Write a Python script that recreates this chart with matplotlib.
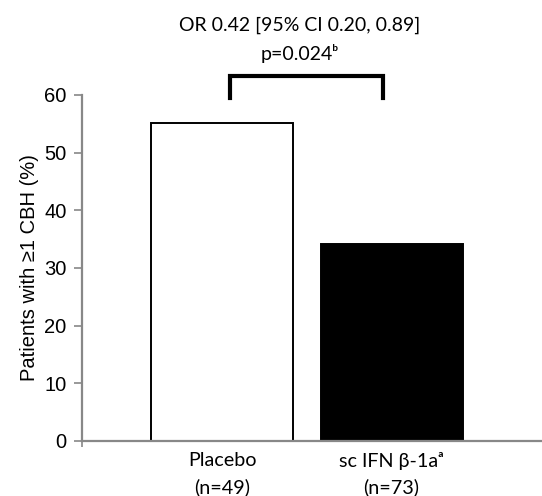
import matplotlib
matplotlib.use("Agg")
import matplotlib.pyplot as plt

group_names = ["Placebo", "sc IFN \u03b2-1a\u1d43"]
group_n = ["(n=49)", "(n=73)"]
values = [55.1, 34.2]
bar_colors = ["white", "black"]
yticks = [0, 10, 20, 30, 40, 50, 60]
stat_text = "OR 0.42 [95% CI 0.20, 0.89]\np=0.024\u1d47"

label_font = ["Lato", "DejaVu Sans"]

fig = plt.figure(figsize=(5.42, 4.96), dpi=100)
ax = fig.add_axes([0.1513, 0.1109, 0.8487, 0.6976])

x = list(range(len(values)))
ax.bar(x, values, width=0.84, color=bar_colors, edgecolor="black", linewidth=1.4)

ax.set_xlim(-0.831, 1.89)
ax.set_ylim(0, 60)
ax.set_yticks(yticks)
ax.tick_params(axis="y", direction="out", length=6, width=1.2, color="#888888",
               labelsize=14.5, pad=5)
for lbl in ax.get_yticklabels():
    lbl.set_fontfamily("Liberation Sans")

# category labels, two lines each, kept on a common baseline
ax.set_xticks([-0.831])
ax.set_xticklabels([])
ax.tick_params(axis="x", direction="out", length=4, width=1.2, color="#888888")
for xi, name, n in zip(x, group_names, group_n):
    for line, off in [(name, -20), (n, -46)]:
        ax.annotate(line, xy=(xi, 0), xycoords=ax.get_xaxis_transform(),
                    xytext=(0, off), textcoords="offset pixels",
                    ha="center", va="center", fontfamily=label_font, fontsize=14.2)

for side in ["top", "right"]:
    ax.spines[side].set_visible(False)
ax.spines["left"].set_color("#888888")
ax.spines["left"].set_linewidth(1.6)
ax.spines["bottom"].set_color("#888888")
ax.spines["bottom"].set_linewidth(1.6)

ax.set_ylabel("Patients with \u22651 CBH (%)", fontfamily="Liberation Sans", fontsize=14.5, labelpad=4)

# significance bracket
bx = [0.044, 0.044, 0.95, 0.95]
by = [59.4, 63.3, 63.3, 59.4]
ax.plot(bx, by, color="black", linewidth=3, clip_on=False, solid_joinstyle="miter")

fig.text(300 / 542, 1 - 40 / 496, stat_text, ha="center", va="center",
         fontfamily=label_font, fontsize=14, linespacing=1.6)

fig.savefig("out.png", dpi=100)
